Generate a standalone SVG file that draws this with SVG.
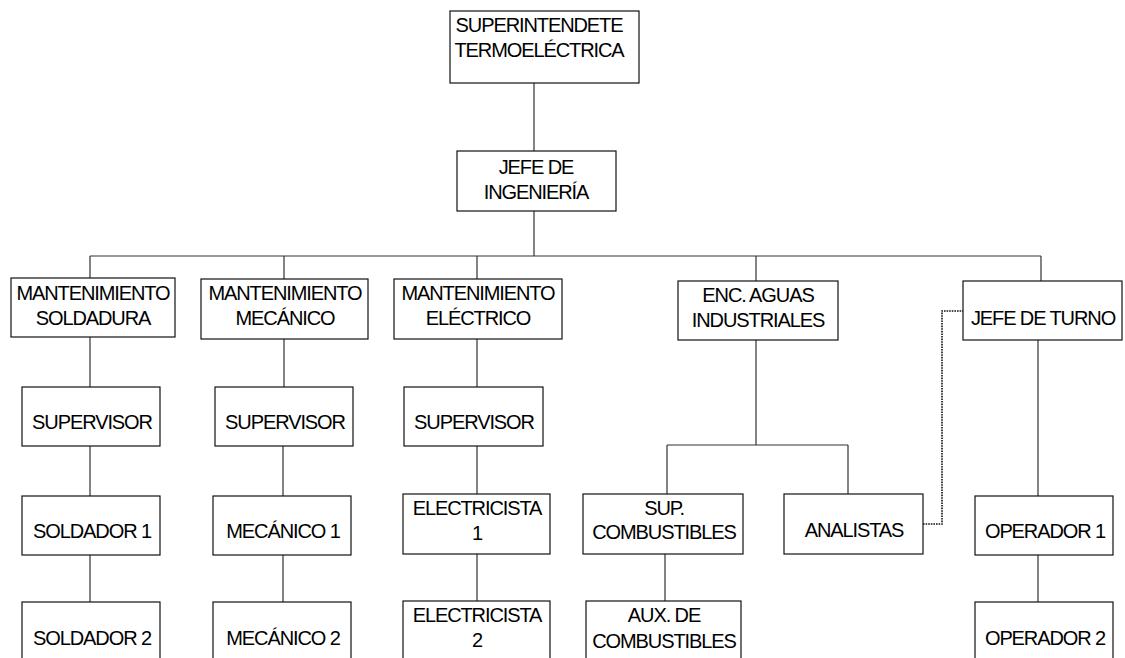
<svg xmlns="http://www.w3.org/2000/svg" width="1125" height="658" viewBox="0 0 1125 658">
<style>
.box{fill:#fff;stroke:#111;stroke-width:1.2}
.ln{fill:none;stroke:#333;stroke-width:1.2}
.dot{fill:none;stroke:#111;stroke-width:1.6;stroke-dasharray:1.6 1}
text{font-family:"Liberation Sans",Arial,sans-serif;font-size:20px;letter-spacing:-1.1px;fill:#000;text-anchor:middle}
</style>
<rect width="1125" height="658" fill="#fff"/>
<g id="connectors">
<path class="ln" d="M534 83V151M534 211V256M90 256H1041M90 256V278M284 256V279M477 256V279M756 256V281M1041 256V281"/>
<path class="ln" d="M90 337V387M90 446V496M90 555V602"/>
<path class="ln" d="M284 339V387M283 446V496M283 555V602"/>
<path class="ln" d="M477 339V387M477 446V494M477 554V601"/>
<path class="ln" d="M756 340V445M667 445H848M667 445V494M848 445V494M665 554V601"/>
<path class="ln" d="M1038 340V496M1038 555V602"/>
<path class="dot" d="M923 524H942V311H963"/>
</g>
<g id="n-super"><rect class="box" x="450" y="11" width="189" height="72"/><text x="539" y="32">SUPERINTENDETE</text><text x="539" y="57">TERMOELÉCTRICA</text></g>
<g id="n-jefe-ing"><rect class="box" x="457" y="151" width="159" height="60"/><text x="536" y="174">JEFE DE</text><text x="536" y="199">INGENIERÍA</text></g>
<g id="n-mant-sold"><rect class="box" x="11" y="278" width="164" height="59"/><text x="93" y="300">MANTENIMIENTO</text><text x="93" y="325">SOLDADURA</text></g>
<g id="n-mant-mec"><rect class="box" x="201" y="279" width="167" height="60"/><text x="285" y="300">MANTENIMIENTO</text><text x="285" y="325">MECÁNICO</text></g>
<g id="n-mant-elec"><rect class="box" x="394" y="279" width="168" height="60"/><text x="478" y="300">MANTENIMIENTO</text><text x="478" y="325">ELÉCTRICO</text></g>
<g id="n-enc-aguas"><rect class="box" x="678" y="281" width="160" height="59"/><text x="758" y="302">ENC. AGUAS</text><text x="758" y="327">INDUSTRIALES</text></g>
<g id="n-jefe-turno"><rect class="box" x="963" y="281" width="159" height="59"/><text x="1043" y="325">JEFE DE TURNO</text></g>
<g id="n-sup1"><rect class="box" x="22" y="387" width="138" height="59"/><text x="92" y="429">SUPERVISOR</text></g>
<g id="n-sup2"><rect class="box" x="215" y="387" width="138" height="59"/><text x="285" y="429">SUPERVISOR</text></g>
<g id="n-sup3"><rect class="box" x="404" y="387" width="139" height="59"/><text x="474" y="429">SUPERVISOR</text></g>
<g id="n-sold1"><rect class="box" x="22" y="496" width="138" height="59"/><text x="92" y="538">SOLDADOR 1</text></g>
<g id="n-mec1"><rect class="box" x="213" y="496" width="138" height="59"/><text x="283" y="538">MECÁNICO 1</text></g>
<g id="n-elec1"><rect class="box" x="403" y="494" width="147" height="60"/><text x="477" y="515">ELECTRICISTA</text><text x="477" y="540">1</text></g>
<g id="n-supcomb"><rect class="box" x="583" y="494" width="160" height="60"/><text x="664" y="515">SUP.</text><text x="664" y="539">COMBUSTIBLES</text></g>
<g id="n-analistas"><rect class="box" x="784" y="494" width="139" height="60"/><text x="854" y="537">ANALISTAS</text></g>
<g id="n-oper1"><rect class="box" x="975" y="496" width="138" height="59"/><text x="1045" y="538">OPERADOR 1</text></g>
<g id="n-sold2"><rect class="box" x="22" y="602" width="138" height="59"/><text x="92" y="645">SOLDADOR 2</text></g>
<g id="n-mec2"><rect class="box" x="213" y="602" width="138" height="59"/><text x="283" y="645">MECÁNICO 2</text></g>
<g id="n-elec2"><rect class="box" x="403" y="601" width="147" height="60"/><text x="477" y="622">ELECTRICISTA</text><text x="477" y="647">2</text></g>
<g id="n-auxcomb"><rect class="box" x="586" y="601" width="155" height="60"/><text x="664" y="622">AUX. DE</text><text x="664" y="648">COMBUSTIBLES</text></g>
<g id="n-oper2"><rect class="box" x="975" y="602" width="138" height="59"/><text x="1045" y="645">OPERADOR 2</text></g>
</svg>
